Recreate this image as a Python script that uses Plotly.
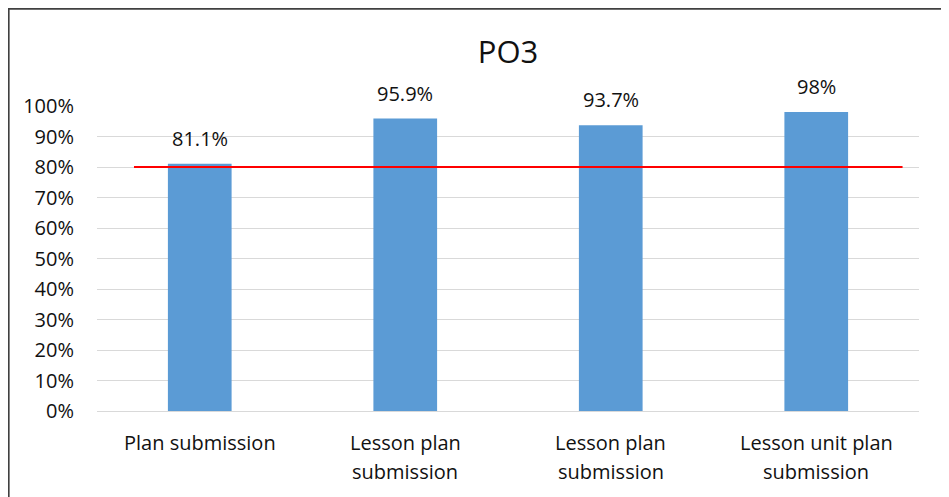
import plotly.graph_objects as go

categories = ["Plan submission", "Lesson plan<br>submission", "Lesson plan<br>submission", "Lesson unit plan<br>submission"]
values = [81.1, 95.9, 93.7, 98]
value_labels = ["81.1%", "95.9%", "93.7%", "98%"]
target = 80
y_ticks = list(range(0, 101, 10))
y_tick_labels = [f"{t}%" for t in y_ticks]

FONT = "Open Sans"
TXT = "#111111"
FS = 20
x_idx = list(range(len(categories)))

fig = go.Figure()
fig.add_trace(go.Bar(
    x=x_idx, y=values, marker=dict(color="#5B9BD5", line=dict(width=0)),
    width=0.31, hoverinfo="skip", showlegend=False,
))

# value labels above bars
for i, (v, lab) in enumerate(zip(values, value_labels)):
    fig.add_annotation(x=i, y=v, text=lab, showarrow=False, xref="x", yref="y",
                       yanchor="bottom", yshift=10,
                       font=dict(family=FONT, size=FS, color=TXT))

# category labels (one annotation per line to match the wider line spacing)
for i, cat in enumerate(categories):
    for k, line in enumerate(cat.split("<br>")):
        fig.add_annotation(x=i, y=0, text=line, showarrow=False, xref="x", yref="y",
                           yanchor="middle", yshift=-31 - 29 * k,
                           font=dict(family=FONT, size=FS, color=TXT))

# target line
fig.add_shape(type="line", xref="x", yref="y", x0=-0.32, x1=3.42, y0=target, y1=target,
              line=dict(color="#FF0000", width=2), layer="above")

# outer chart border
fig.add_shape(type="rect", xref="paper", yref="paper",
              x0=-0.1074, x1=1.0310, y0=-0.4, y1=1.3189,
              line=dict(color="#404040", width=1.8), layer="above")

fig.update_layout(
    width=941, height=489,
    margin=dict(l=89, r=30, t=98, b=86),
    paper_bgcolor="white", plot_bgcolor="white",
    title=dict(text="PO3", x=0.5, xref="paper", y=1 - 44/489, yanchor="middle",
               font=dict(family=FONT, size=31, color=TXT)),
    font=dict(family=FONT, size=FS, color=TXT),
    bargap=0.69,
)
fig.update_xaxes(tickmode="array", tickvals=x_idx, showticklabels=False,
                 range=[-0.5, 3.5], showgrid=False, zeroline=False, showline=False,
                 ticks="")
fig.update_yaxes(range=[0, 100], tickmode="array", tickvals=y_ticks, ticktext=y_tick_labels,
                 showgrid=True, gridcolor="#d9d9d9", gridwidth=1, zeroline=True,
                 zerolinecolor="#d9d9d9", zerolinewidth=1, showline=False, ticks="",
                 ticklabelstandoff=22,
                 tickfont=dict(family=FONT, size=FS, color=TXT))

fig.write_html("out.html")
